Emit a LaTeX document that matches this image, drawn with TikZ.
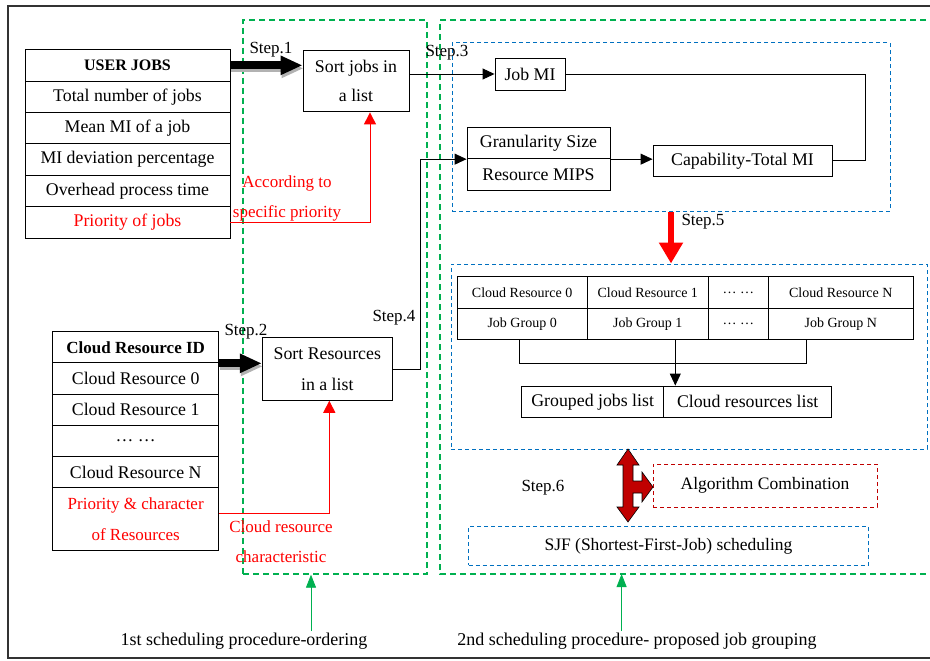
\documentclass[tikz,border=0pt]{standalone}
\usepackage{fontspec}
\setmainfont{Liberation Serif}
\usetikzlibrary{arrows.meta}
\definecolor{grn}{HTML}{00B050}
\definecolor{blu}{HTML}{0070C0}
\definecolor{dred}{HTML}{C00000}
\tikzset{
  box/.style={draw, line width=0.9pt, inner sep=0pt, align=center,
    font=\fontsize{17.8}{30}\selectfont},
  cell/.style={box, minimum height=31.4pt},
  gcell/.style={box, font=\fontsize{14}{16}\selectfont},
  steplbl/.style={inner sep=0pt, font=\fontsize{17}{19}\selectfont},
  redtxt/.style={inner sep=0pt, text=red, font=\fontsize{17}{19}\selectfont},
  greenbox/.style={draw=grn, line width=1.3pt, dash pattern=on 6pt off 4pt},
  bluebox/.style={draw=blu, line width=1pt, dash pattern=on 4pt off 3pt},
  redbox/.style={draw=dred, line width=1pt, dash pattern=on 4pt off 3pt},
  conn/.style={line width=0.9pt},
  tip/.style={conn, -{Triangle[length=12pt,width=11pt]}},
  redtip/.style={draw=red, line width=1pt, -{Triangle[length=12pt,width=12pt]}},
  fatarrow/.style={line width=8pt, -{Triangle[length=22pt,width=18pt]}},
  fatshadow/.style={fatarrow, draw=black!30},
  greenarrow/.style={draw=grn, line width=0.8pt, -{Triangle[length=13pt,width=10pt]}},
}
\begin{document}
\begin{tikzpicture}[x=1pt,y=-1pt]
\useasboundingbox (0,0) rectangle (930,661);

% outer frame
\draw[line width=1.2pt, black!80] (936,6) -| (8,658) -- (936,658);

% stage frames
\node[greenbox, minimum width=184pt, minimum height=554pt] (stage1) at (335,297) {};
\draw[greenbox] (936,20) -| (440,574) -- (936,574);
\coordinate (s2bl) at (440,574);

% dashed groups of stage 2
\node[bluebox, minimum width=438pt, minimum height=168pt] (blue1) at (671,127) {};
\node[bluebox, minimum width=476pt, minimum height=185pt] (blue2) at (689,356.5) {};

% user jobs table
\node[cell, minimum width=205pt, font=\bfseries\fontsize{16}{18}\selectfont] (uj0) at (127.5,65.35) {USER JOBS};
\node[cell, minimum width=205pt] (uj1) at (127.5,96.75) {Total number of jobs};
\node[cell, minimum width=205pt] (uj2) at (127.5,128.15) {Mean MI of a job};
\node[cell, minimum width=205pt] (uj3) at (127.5,159.55) {MI deviation percentage};
\node[cell, minimum width=205pt] (uj4) at (127.5,190.95) {Overhead process time};
\node[cell, minimum width=205pt, text=red] (pj) at (127.5,222.35) {Priority of jobs};

% cloud resource table
\node[cell, minimum width=166pt, minimum height=31.2pt, font=\bfseries\fontsize{17}{19}\selectfont] (cr0) at (135.7,347.3) {Cloud Resource ID};
\node[cell, minimum width=166pt, minimum height=31.2pt] (cr1) at (135.7,378.5) {Cloud Resource 0};
\node[cell, minimum width=166pt, minimum height=31.2pt] (cr2) at (135.7,409.7) {Cloud Resource 1};
\node[cell, minimum width=166pt, minimum height=31.2pt] (cr3) at (135.7,440.9) {\dots\ \dots};
\node[cell, minimum width=166pt, minimum height=31.2pt] (cr4) at (135.7,472.1) {Cloud Resource N};
\node[cell, minimum width=166pt, minimum height=62.3pt, text=red, font=\fontsize{17}{31}\selectfont] (pr) at (135.7,518.85) {Priority \& character\\of Resources};

% sorting boxes
\node[box, minimum width=106pt, minimum height=61.3pt, font=\fontsize{17.8}{29}\selectfont] (sortjobs) at (356,81.3) {Sort jobs in\\a list};
\node[box, minimum width=130pt, minimum height=62.6pt, font=\fontsize{17.8}{31}\selectfont] (sortres) at (327.3,369) {Sort Resources\\in a list};

% stage 2, upper group
\node[box, minimum width=70pt, minimum height=32pt] (jobmi) at (530,74) {Job MI};
\node[box, minimum width=143pt, minimum height=31.7pt] (gs) at (538.5,142.85) {Granularity Size};
\node[box, minimum width=143pt, minimum height=31.3pt] (rm) at (538.5,174.35) {Resource MIPS};
\node[box, minimum width=179pt, minimum height=30.3pt] (cap) at (742.5,160.85) {Capability-Total MI};

% stage 2, grouping table
\node[gcell, minimum width=130.3pt, minimum height=32pt] (ra0) at (522.15,292.7) {Cloud Resource 0};
\node[gcell, minimum width=121pt, minimum height=32pt] (ra1) at (647.8,292.7) {Cloud Resource 1};
\node[gcell, minimum width=60pt, minimum height=32pt] (rad) at (738.3,292.7) {\dots\ \dots};
\node[gcell, minimum width=145pt, minimum height=32pt] (raN) at (840.8,292.7) {Cloud Resource N};
\node[gcell, minimum width=130.3pt, minimum height=30.3pt] (jg0) at (522.15,323.85) {Job Group 0};
\node[gcell, minimum width=121pt, minimum height=30.3pt] (jg1) at (647.8,323.85) {Job Group 1};
\node[gcell, minimum width=60pt, minimum height=30.3pt] (jgd) at (738.3,323.85) {\dots\ \dots};
\node[gcell, minimum width=145pt, minimum height=30.3pt] (jgN) at (840.8,323.85) {Job Group N};

\node[box, minimum width=142pt, minimum height=31.7pt] (gj) at (592.7,401.85) {Grouped jobs list};
\node[box, minimum width=168pt, minimum height=31.7pt] (crl) at (747.7,401.85) {Cloud resources list};

% stage 2, lower part
\node[redbox, minimum width=224pt, minimum height=43pt, font=\fontsize{17.5}{19}\selectfont] (algo) at (765,485.5) {Algorithm Combination};
\node[bluebox, minimum width=400pt, minimum height=38.5pt, font=\fontsize{17.5}{19}\selectfont] (sjf) at (668.5,546.2) {SJF (Shortest-First-Job) scheduling};

% step labels
\node[steplbl] (st1) at (271,50) {Step.1};
\node[steplbl] (st2) at (246,332) {Step.2};
\node[steplbl] (st3) at (447,53) {Step.3};
\node[steplbl] (st4) at (394,318) {Step.4};
\node[steplbl] (st5) at (703,222) {Step.5};
\node[steplbl] (st6) at (543,488) {Step.6};

% red annotations
\node[redtxt] (acc1) at (287,183) {According to};
\node[redtxt] (acc2) at (287,213) {specific priority};
\node[redtxt] (crc1) at (281,527) {Cloud resource};
\node[redtxt] (crc2) at (281,557) {characteristic};

% step 1 and step 2 fat arrows with shadow
\draw[fatshadow] ([shift={(1,3)}]uj0.east) -- ([shift={(1,3)}]uj0.east -| sortjobs.west);
\draw[fatarrow] (uj0.east) -- (uj0.east -| sortjobs.west);
\draw[fatshadow] ([shift={(1,3)}]cr0.south east) -- ([shift={(1,3)}]cr0.south east -| sortres.west);
\draw[fatarrow] (cr0.south east) -- (cr0.south east -| sortres.west);

% priority feeds
\draw[redtip] (pj.east) -| ([xshift=14pt]sortjobs.south);
\draw[redtip] ([yshift=5pt]pr.east) -| ([xshift=2pt]sortres.south);

% step 3 and step 4
\draw[tip] (jobmi.west -| sortjobs.east) -- (jobmi.west);
\draw[tip] (sortres.east) -| ([xshift=-46pt]gs.south west) -- (gs.south west);
\draw[conn] (jobmi.east) -| ([xshift=33pt]cap.east) -- (cap.east);
\draw[tip] (gs.south east) -- (gs.south east -| cap.west);

% step 5
\draw[draw=red, line width=6pt, -{Triangle[length=21pt,width=23pt]}] (blue1.south) -- (blue1.south |- blue2.north);

% grouping connectors
\draw[conn] ([xshift=-3.2pt]jg0.south) -- ++(0,23.7) -| ([xshift=-34.1pt]jgN.south);
\draw[tip] ([xshift=27.5pt]jg1.south) -- ([xshift=27.5pt]jg1.south |- gj.north);

% step 6 three-way arrow
\filldraw[fill=dred, draw=black, line width=0.6pt]
  (628,449) -- (639,465) -- (633,465) -- (633,481) -- (642,481) -- (642,472)
  -- (653,487) -- (642,502) -- (642,493) -- (633,493) -- (633,507) -- (639,507)
  -- (628,522) -- (617,507) -- (623,507) -- (623,465) -- (617,465) -- cycle;

% stage captions
\node[inner sep=0pt, font=\fontsize{18}{20}\selectfont] (cap1) at (244,641) {1st scheduling procedure-ordering};
\node[inner sep=0pt, font=\fontsize{18}{20}\selectfont] (cap2) at (637,641) {2nd scheduling procedure- proposed job grouping};
\coordinate (g1foot) at (311,631);
\coordinate (g2foot) at (621.6,631);
\draw[greenarrow] (g1foot) -- (g1foot |- stage1.south);
\draw[greenarrow] (g2foot) -- (g2foot |- s2bl);
\end{tikzpicture}
\end{document}
